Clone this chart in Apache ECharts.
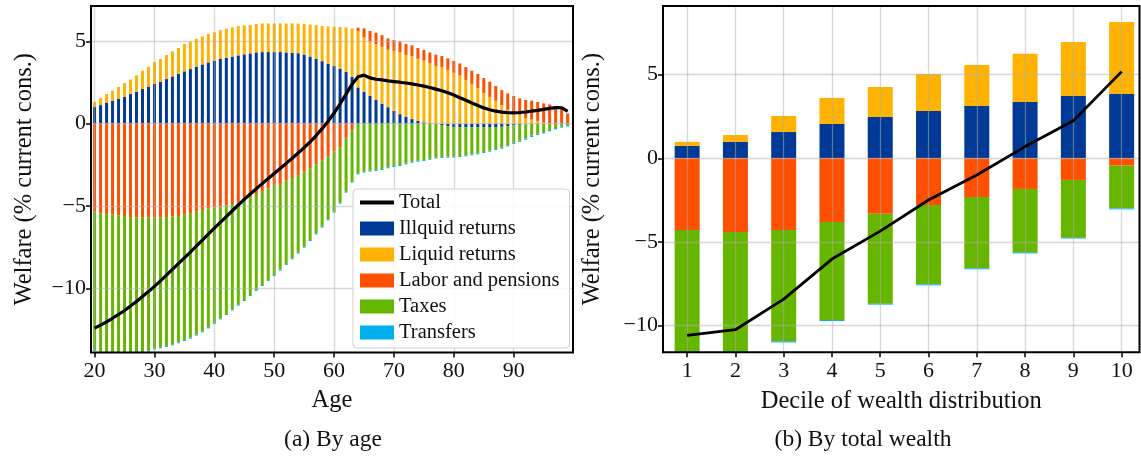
<!DOCTYPE html>
<html>
<head>
<meta charset="utf-8">
<script src="https://cdn.jsdelivr.net/npm/echarts@6/dist/echarts.min.js"></script>
<style>
html,body{margin:0;padding:0;background:#fff;}
#chart{width:1141px;height:462px;}
</style>
</head>
<body>
<div id="chart"></div>
<script>
// ---------- Panel (a): by age ----------
const ages = [20,21,22,23,24,25,26,27,28,29,30,31,32,33,34,35,36,37,38,39,40,41,42,43,44,45,46,47,48,49,50,51,52,53,54,55,56,57,58,59,60,61,62,63,64,65,66,67,68,69,70,71,72,73,74,75,76,77,78,79,80,81,82,83,84,85,86,87,88,89,90,91,92,93,94,95,96,97,98,99];
const illiquidAge = [1.01,1.13,1.26,1.40,1.52,1.64,1.80,1.94,2.11,2.25,2.41,2.55,2.71,2.87,3.04,3.18,3.32,3.46,3.60,3.72,3.83,3.93,4.01,4.07,4.15,4.21,4.27,4.33,4.35,4.35,4.35,4.35,4.33,4.31,4.28,4.20,4.08,3.95,3.80,3.65,3.50,3.35,3.15,2.85,2.20,1.95,1.70,1.45,1.22,1.00,0.78,0.58,0.42,0.28,0.17,0.08,0.03,0.00,-0.08,-0.15,-0.20,-0.21,-0.22,-0.22,-0.22,-0.21,-0.20,-0.20,-0.18,-0.15,-0.10,-0.06,-0.04,-0.02,-0.02,-0.01,-0.01,0,0,0];
const liquidAge = [0.31,0.43,0.54,0.60,0.71,0.83,0.89,1.00,1.11,1.21,1.33,1.38,1.46,1.52,1.56,1.66,1.68,1.70,1.70,1.73,1.72,1.76,1.76,1.78,1.78,1.76,1.72,1.72,1.74,1.74,1.74,1.74,1.76,1.78,1.80,1.86,1.94,2.03,2.14,2.26,2.39,2.53,2.70,2.94,3.43,3.29,3.28,3.38,3.46,3.50,3.65,3.77,3.76,3.82,3.77,3.75,3.66,3.51,3.45,3.27,3.09,2.94,2.66,2.42,2.16,1.85,1.63,1.39,1.12,0.84,0.68,0.54,0.34,0.25,0.17,0.06,0.02,0,0,0];
const laborAge = [-5.34,-5.45,-5.49,-5.51,-5.57,-5.61,-5.67,-5.69,-5.71,-5.71,-5.71,-5.69,-5.67,-5.63,-5.61,-5.53,-5.43,-5.32,-5.24,-5.16,-5.10,-5.04,-4.98,-4.88,-4.78,-4.64,-4.47,-4.27,-4.09,-3.93,-3.72,-3.66,-3.46,-3.30,-3.12,-2.92,-2.70,-2.46,-2.22,-1.98,-1.70,-1.42,-0.90,-0.42,0.20,0.55,0.65,0.70,0.70,0.68,0.65,0.65,0.66,0.66,0.66,0.65,0.64,0.68,0.66,0.70,0.72,0.72,0.78,0.80,0.86,0.92,0.92,0.90,0.92,1.00,1.00,1.00,1.10,1.15,1.15,1.17,1.15,1.07,0.90,0.62];
const taxesAge = [-8.40,-8.40,-8.51,-8.59,-8.53,-8.49,-8.38,-8.31,-8.21,-8.08,-7.95,-7.89,-7.83,-7.77,-7.67,-7.61,-7.57,-7.49,-7.38,-7.22,-7.00,-6.79,-6.58,-6.40,-6.21,-6.07,-5.94,-5.83,-5.71,-5.56,-5.47,-5.20,-5.06,-4.88,-4.71,-4.55,-4.37,-4.21,-4.03,-3.83,-3.64,-3.38,-3.23,-3.10,-3.02,-2.91,-2.85,-2.81,-2.75,-2.65,-2.57,-2.51,-2.41,-2.31,-2.25,-2.21,-2.13,-2.06,-1.94,-1.85,-1.80,-1.75,-1.70,-1.64,-1.58,-1.51,-1.44,-1.34,-1.28,-1.17,-1.07,-0.97,-0.85,-0.71,-0.59,-0.50,-0.37,-0.26,-0.16,-0.08];
const transfersAge = [-0.06,-0.06,-0.06,-0.06,-0.06,-0.06,-0.06,-0.06,-0.06,-0.06,-0.06,-0.06,-0.06,-0.06,-0.06,-0.06,-0.06,-0.06,-0.06,-0.06,-0.06,-0.06,-0.06,-0.06,-0.06,-0.06,-0.06,-0.06,-0.06,-0.06,-0.06,-0.06,-0.06,-0.06,-0.06,-0.06,-0.06,-0.06,-0.06,-0.06,-0.06,-0.06,-0.06,-0.06,-0.06,-0.06,-0.06,-0.06,-0.06,-0.06,-0.06,-0.06,-0.06,-0.06,-0.06,-0.06,-0.06,-0.06,-0.06,-0.06,-0.06,-0.06,-0.06,-0.06,-0.06,-0.06,-0.06,-0.06,-0.06,-0.06,-0.06,-0.08,-0.08,-0.08,-0.08,-0.08,-0.08,-0.08,-0.08,-0.08];
const totalAge = [-12.42,-12.24,-12.04,-11.82,-11.59,-11.35,-11.08,-10.80,-10.50,-10.20,-9.88,-9.55,-9.20,-8.85,-8.50,-8.15,-7.80,-7.43,-7.07,-6.71,-6.35,-5.99,-5.64,-5.29,-4.94,-4.60,-4.27,-3.95,-3.64,-3.33,-3.03,-2.72,-2.41,-2.10,-1.78,-1.45,-1.10,-0.72,-0.30,0.15,0.65,1.20,1.80,2.40,2.85,2.95,2.78,2.70,2.66,2.60,2.56,2.52,2.47,2.42,2.35,2.28,2.20,2.10,2.00,1.88,1.74,1.58,1.42,1.26,1.10,0.96,0.85,0.76,0.70,0.67,0.66,0.68,0.71,0.76,0.81,0.87,0.93,0.98,0.97,0.75];
const ageTicks = [20,30,40,50,60,70,80,90];

// ---------- Panel (b): by total wealth ----------
const deciles = [1,2,3,4,5,6,7,8,9,10];
const illiquidW = [0.74,0.98,1.57,2.05,2.47,2.83,3.13,3.37,3.73,3.84];
const liquidW = [0.24,0.41,0.96,1.56,1.79,2.21,2.45,2.87,3.22,4.31];
const laborW = [-4.28,-4.40,-4.28,-3.81,-3.31,-2.79,-2.31,-1.83,-1.29,-0.44];
const taxesW = [-8.22,-7.90,-6.66,-5.85,-5.38,-4.74,-4.26,-3.79,-3.45,-2.55];
const transfersW = [-0.05,-0.05,-0.06,-0.06,-0.05,-0.06,-0.06,-0.06,-0.05,-0.06];
const totalW = [-10.58,-10.24,-8.41,-6.02,-4.35,-2.49,-1.00,0.70,2.25,5.18];
const decileTicks = [1,2,3,4,5,6,7,8,9,10];

const welfareTicks = [-10,-5,0,5];

const NAMES = ['Illquid returns','Liquid returns','Labor and pensions','Taxes','Transfers'];
const COLORS = ['#003A96','#FFB300','#FF4F00','#66B600','#00B0EE'];
const FONT = 'Liberation Serif';
const GRIDLINE = {color:'rgba(176,176,176,0.5)', width:1.3, type:'solid'};

// value-first pairs so that the stack runs on the value (y) dimension
function stackPairs(xs, ys){ return ys.map((y,i)=>[y, xs[i]]); }
function pairs(xs, ys){ return xs.map((x,i)=>[x, ys[i]]); }
const fmt = v => String(v).replace('-', '\u2212');

function xAx(grid, min, max, ticks, name, gap){
  return {
    type:'value', gridIndex:grid, min:min, max:max, z:3,
    name:name, nameLocation:'middle', nameGap:gap,
    nameTextStyle:{fontFamily:FONT, fontSize:24.5, color:'#111'},
    axisLine:{show:false, onZero:false},
    axisTick:{show:true, length:5, lineStyle:{color:'#000', width:1.5}, customValues:ticks},
    axisLabel:{fontFamily:FONT, fontSize:22, color:'#111', margin:8, customValues:ticks, formatter:fmt},
    splitLine:{show:false}
  };
}
function yAx(grid, min, max, nameGap){
  return {
    type:'value', gridIndex:grid, min:min, max:max, z:3,
    name:'Welfare (% current cons.)', nameLocation:'middle', nameGap:nameGap,
    nameTextStyle:{fontFamily:FONT, fontSize:24.5, color:'#111'},
    axisLine:{show:false, onZero:false},
    axisTick:{show:true, length:5, lineStyle:{color:'#000', width:1.5}, customValues:welfareTicks},
    axisLabel:{fontFamily:FONT, fontSize:22, color:'#111', margin:5, customValues:welfareTicks, formatter:fmt},
    splitLine:{show:false}
  };
}
function gridLines(xTicks){
  return {
    silent:true, symbol:['none','none'], z:3, animation:false,
    label:{show:false}, lineStyle:GRIDLINE, emphasis:{disabled:true},
    data: xTicks.map(v=>({xAxis:v})).concat(welfareTicks.map(v=>({yAxis:v})))
  };
}

const ageSeries = [illiquidAge, liquidAge, laborAge, taxesAge, transfersAge];
const wSeries = [illiquidW, liquidW, laborW, taxesW, transfersW];

const series = [];
ageSeries.forEach((arr, k) => {
  series.push({
    type:'bar', name:NAMES[k], xAxisIndex:0, yAxisIndex:0, stack:'age',
    barWidth:3, itemStyle:{color:COLORS[k]}, encode:{x:1, y:0},
    data:stackPairs(ages, arr), z:2
  });
});
series.push({
  type:'line', name:'Total', xAxisIndex:0, yAxisIndex:0, data:pairs(ages,totalAge),
  symbol:'none', lineStyle:{color:'#000', width:3.2}, itemStyle:{color:'#000'}, z:10,
  markLine:gridLines(ageTicks)
});
wSeries.forEach((arr, k) => {
  series.push({
    type:'bar', name:NAMES[k], xAxisIndex:1, yAxisIndex:1, stack:'w',
    barWidth:25, itemStyle:{color:COLORS[k]}, encode:{x:1, y:0},
    data:stackPairs(deciles, arr), z:2
  });
});
series.push({
  type:'line', name:'Total', xAxisIndex:1, yAxisIndex:1, data:pairs(deciles,totalW),
  symbol:'none', lineStyle:{color:'#000', width:2.8}, itemStyle:{color:'#000'}, z:10,
  markLine:gridLines(decileTicks)
});

const chart = echarts.init(document.getElementById('chart'), null, {renderer:'canvas'});
chart.setOption({
  animation:false,
  backgroundColor:'#fff',
  textStyle:{fontFamily:FONT},
  grid:[
    {left:91, top:6, width:482, height:346.5, show:true, borderColor:'#000', borderWidth:2, backgroundColor:'transparent', z:4},
    {left:663, top:6, width:476.5, height:346.3, show:true, borderColor:'#000', borderWidth:2, backgroundColor:'transparent', z:4}
  ],
  xAxis:[ xAx(0, 19.4, 99.9, ageTicks, 'Age', 36), xAx(1, 0.5, 10.37, decileTicks, 'Decile of wealth distribution', 37) ],
  yAxis:[ yAx(0, -13.9, 7.15, 54), yAx(1, -11.59, 9.1, 58) ],
  legend:{
    orient:'vertical', left:353, top:189,
    data:[{name:'Total', itemStyle:{color:'rgba(0,0,0,0)', borderWidth:0}, lineStyle:{color:'#000', width:4}}].concat(NAMES.map(n=>({name:n, icon:'rect'}))),
    itemWidth:34, itemHeight:14, itemGap:5, itemTextGap:9,
    padding:[3,10,5,5],
    backgroundColor:'rgba(255,255,255,0.85)', borderColor:'#d0d0d0', borderWidth:1, borderRadius:4,
    textStyle:{fontFamily:FONT, fontSize:20.5, color:'#111', lineHeight:19},
    selectedMode:false, z:20
  },
  graphic:[
    {type:'text', style:{text:'(a) By age', font:'23.5px "Liberation Serif"', fill:'#111', textAlign:'center', textVerticalAlign:'middle', x:333, y:440}},
    {type:'text', style:{text:'(b) By total wealth', font:'23.5px "Liberation Serif"', fill:'#111', textAlign:'center', textVerticalAlign:'middle', x:863, y:440}}
  ],
  series:series
});
</script>
</body>
</html>
